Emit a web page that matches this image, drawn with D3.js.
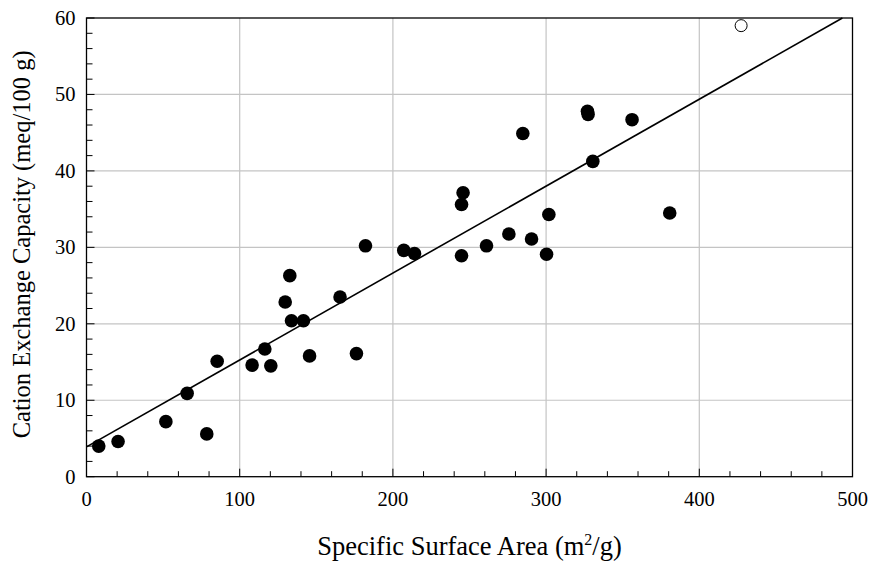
<!DOCTYPE html>
<html><head><meta charset="utf-8">
<script src="https://cdn.jsdelivr.net/npm/d3@7"></script>
<style>body{margin:0;background:#fff}svg{display:block}</style>
</head><body>
<script>
const surfaceArea = [8.0,20.6,51.8,65.7,78.5,85.3,108.1,116.4,120.3,129.7,132.7,133.8,141.6,145.6,165.5,176.2,182.1,207.1,214.1,244.8,244.8,245.8,261.1,275.7,290.5,300.3,301.8,327.0,327.4,330.5,356.1,380.7,284.8];
const cec = [4.0,4.6,7.2,10.9,5.6,15.1,14.6,16.7,14.5,22.85,26.3,20.4,20.4,15.8,23.5,16.1,30.2,29.6,29.2,28.9,35.6,37.15,30.2,31.75,31.1,29.1,34.3,47.8,47.4,41.25,46.7,34.5,44.9];
const outlierX = [427.3];
const outlierY = [59.0];
const fitIntercept = 3.9;
const fitSlope = 0.1137;
const xTicks = [0,100,200,300,400,500];
const yTicks = [0,10,20,30,40,50,60];

const FONT="Liberation Serif";
const W=871,H=565;
const m={l:86.5,r:18.5,t:18,b:88.3};
const svg=d3.select("body").append("svg").attr("width",W).attr("height",H);
const x=d3.scaleLinear().domain([0,500]).range([m.l,W-m.r]);
const y=d3.scaleLinear().domain([0,60]).range([H-m.b,m.t]);
const g=svg.append("g");
// grid
g.selectAll(".gx").data(xTicks.slice(1,-1)).join("line").attr("x1",d=>x(d)).attr("x2",d=>x(d)).attr("y1",y(0)).attr("y2",y(60)).attr("stroke","#c4c4c4").attr("stroke-width",1.2);
g.selectAll(".gy").data(yTicks.slice(1,-1)).join("line").attr("y1",d=>y(d)).attr("y2",d=>y(d)).attr("x1",x(0)).attr("x2",x(500)).attr("stroke","#c4c4c4").attr("stroke-width",1.2);
// axes with inward ticks
const xMinor=d3.range(0,501,20);
const yMinor=d3.range(0,61,2);
g.selectAll(".mx").data(xMinor).join("line").attr("x1",d=>x(d)).attr("x2",d=>x(d)).attr("y1",y(0)).attr("y2",d=>y(0)-(d%100===0?8:5.5)).attr("stroke","#000").attr("stroke-width",1);
g.selectAll(".my").data(yMinor).join("line").attr("y1",d=>y(d)).attr("y2",d=>y(d)).attr("x1",x(0)).attr("x2",d=>x(0)+(d%10===0?8:6)).attr("stroke","#000").attr("stroke-width",1);
g.append("rect").attr("x",x(0)).attr("y",y(60)).attr("width",x(500)-x(0)).attr("height",y(0)-y(60)).attr("fill","none").attr("stroke","#000").attr("stroke-width",1.3);
// tick labels
g.selectAll(".tx").data(xTicks).join("text").attr("font-family",FONT).attr("x",d=>x(d)).attr("y",y(0)+29.5).attr("text-anchor","middle").attr("font-size",20.5).text(d=>d);
g.selectAll(".ty").data(yTicks).join("text").attr("font-family",FONT).attr("x",x(0)-11).attr("y",d=>y(d)+7).attr("text-anchor","end").attr("font-size",20.5).text(d=>d);
// fit line
const xEnd=(60-fitIntercept)/fitSlope;
g.append("line").attr("x1",x(0)).attr("y1",y(fitIntercept)).attr("x2",x(xEnd)).attr("y2",y(60)).attr("stroke","#000").attr("stroke-width",1.6);
// points
g.selectAll(".pt").data(surfaceArea).join("circle").attr("cx",d=>x(d)).attr("cy",(d,i)=>y(cec[i])).attr("r",6.8).attr("fill","#000");
g.selectAll(".op").data(outlierX).join("circle").attr("cx",d=>x(d)).attr("cy",(d,i)=>y(outlierY[i])).attr("r",6).attr("fill","#fff").attr("stroke","#000").attr("stroke-width",1);
// titles
const xt=svg.append("text").attr("font-family",FONT).attr("x",(x(0)+x(500))/2).attr("y",555).attr("text-anchor","middle").attr("font-size",26.5);
xt.append("tspan").text("Specific Surface Area (m");
xt.append("tspan").attr("dy",-10).attr("font-size",16).text("2");
xt.append("tspan").attr("dy",10).text("/g)");
svg.append("text").attr("font-family",FONT).attr("transform",`translate(30,${(y(0)+y(60))/2 - 3}) rotate(-90)`).attr("text-anchor","middle").attr("font-size",24.5).text("Cation Exchange Capacity (meq/100 g)");
</script>
</body></html>
